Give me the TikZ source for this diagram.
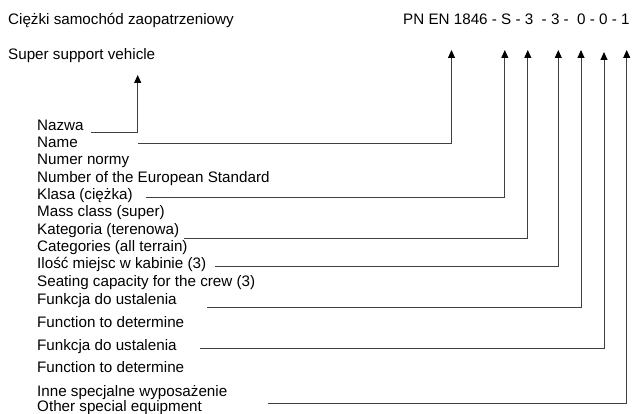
\documentclass[tikz,border=0pt]{standalone}
\usepackage{fontspec}
\setmainfont{Liberation Sans}
\usetikzlibrary{arrows.meta}
\begin{document}
\begin{tikzpicture}[x=1pt,y=-1pt,
  lbl/.style={anchor=base west,inner sep=0pt,font=\fontsize{15.2}{17}\selectfont},
  conn/.style={draw=black!75,line width=0.9pt},
  arr/.style={conn,-{Triangle[width=7pt,length=8pt,color=black]}}]
\useasboundingbox (0,0) rectangle (632,414);
% top texts
\node[lbl] (pl) at (8,25) {Ciężki samochód zaopatrzeniowy};
\node[lbl] (en) at (8,60) {Super support vehicle};
\node[lbl] (code) at (403,25) {PN EN 1846 - S - 3 \ - 3 - \ 0 - 0 - 1};
% left labels
\node[lbl] (nazwa) at (37,131) {Nazwa};
\node[lbl] (name) at (37,147.5) {Name};
\node[lbl] (numer) at (37,165) {Numer normy};
\node[lbl] (number) at (37,182.5) {Number of the European Standard};
\node[lbl] (klasa) at (37,200) {Klasa (ciężka)};
\node[lbl] (mass) at (37,217) {Mass class (super)};
\node[lbl] (kat) at (37,234.5) {Kategoria (terenowa)};
\node[lbl] (cat) at (37,251.5) {Categories (all terrain)};
\node[lbl] (ilosc) at (37,269) {Ilość miejsc w kabinie (3)};
\node[lbl] (seat) at (37,287) {Seating capacity for the crew (3)};
\node[lbl] (fa) at (37,305) {Funkcja do ustalenia};
\node[lbl] (fae) at (37,327.5) {Function to determine};
\node[lbl] (fb) at (37,350.5) {Funkcja do ustalenia};
\node[lbl] (fbe) at (37,372.5) {Function to determine};
\node[lbl] (inne) at (37,396) {Inne specjalne wyposażenie};
\node[lbl] (other) at (37,411) {Other special equipment};
% connector start points
\coordinate (s1) at (91,132);
\coordinate (s2) at (138,143);
\coordinate (s3) at (146,197.7);
\coordinate (s4) at (184,238.3);
\coordinate (s5) at (215,266);
\coordinate (s6) at (207,307);
\coordinate (s7) at (200,348.3);
\coordinate (s8) at (268,403.3);
% arrow tips
\coordinate (t1) at (137.7,75);
\coordinate (t2) at (451.5,50);
\coordinate (t3) at (504.8,50);
\coordinate (t4) at (527.8,50);
\coordinate (t5) at (558.3,50);
\coordinate (t6) at (581,50);
\coordinate (t7) at (604,52);
\coordinate (t8) at (626.7,50);
% connectors
\draw[arr] (s1) -| (t1);
\draw[arr] (s2) -| (t2);
\draw[arr] (s3) -| (t3);
\draw[arr] (s4) -| (t4);
\draw[arr] (s5) -| (t5);
\draw[arr] (s6) -| (t6);
\draw[arr] (s7) -| (t7);
\draw[arr] (s8) -| (t8);
\end{tikzpicture}
\end{document}
